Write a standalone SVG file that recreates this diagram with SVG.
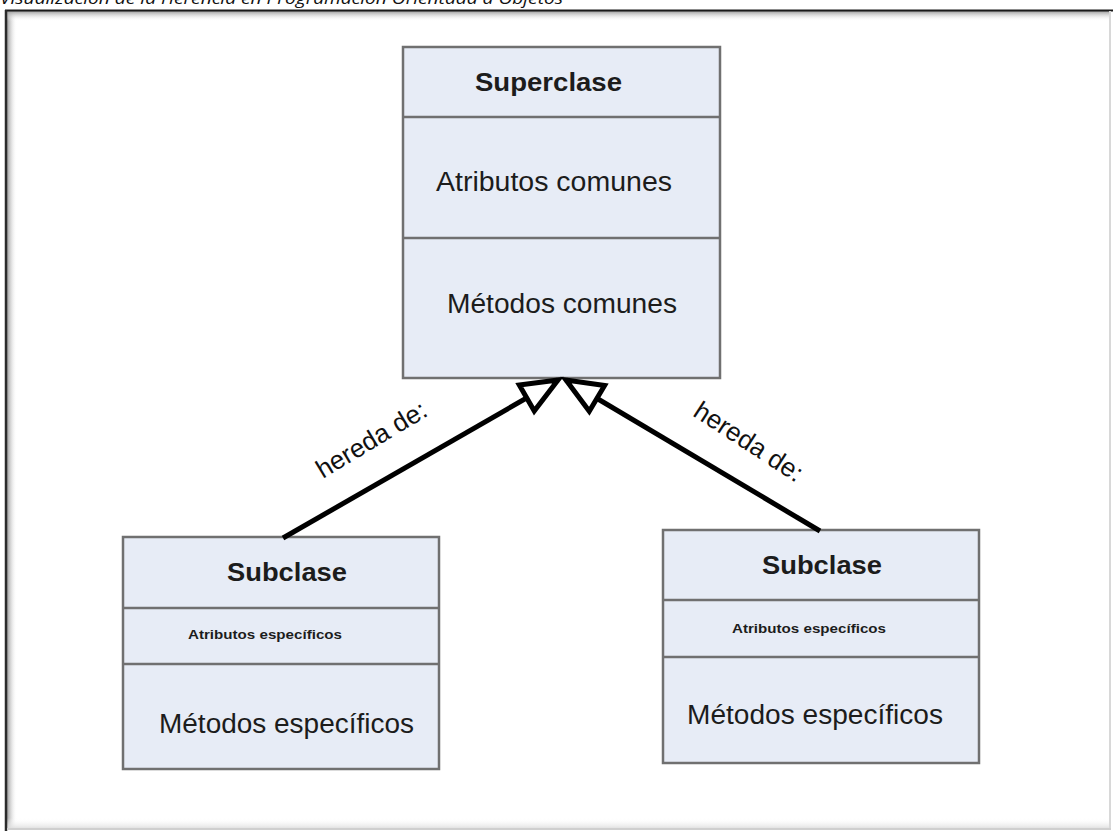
<svg xmlns="http://www.w3.org/2000/svg" width="1113" height="831" viewBox="0 0 1113 831">
<style>
.box{fill:#e7ecf6;stroke:#707070;stroke-width:2.5}
.div{stroke:#707070;stroke-width:2.5}
.t{font-family:"Liberation Sans",Arial,sans-serif;fill:#1c1c1c}
.b{font-weight:bold}
.conn{stroke:#000;stroke-width:5;fill:none}
.lbl{font-family:"Liberation Sans",Arial,sans-serif;font-size:26px;fill:#111}
</style>
<defs>
<linearGradient id="gTop" x1="0" y1="0" x2="0" y2="1">
<stop offset="0" stop-color="#9a9a9a"/><stop offset="1" stop-color="#ffffff" stop-opacity="0"/>
</linearGradient>
<linearGradient id="gLeft" x1="0" y1="0" x2="1" y2="0">
<stop offset="0" stop-color="#9a9a9a"/><stop offset="1" stop-color="#ffffff" stop-opacity="0"/>
</linearGradient>
<linearGradient id="gBot" x1="0" y1="0" x2="0" y2="1">
<stop offset="0" stop-color="#ffffff" stop-opacity="0"/><stop offset="1" stop-color="#dcdcdc"/>
</linearGradient>
<marker id="tri" markerUnits="userSpaceOnUse" markerWidth="60" markerHeight="60" viewBox="-50 -30 60 60" refX="0" refY="0" orient="auto" overflow="visible">
<path d="M0,0 L-36,-15 L-36,15 Z" fill="#fff" stroke="#000" stroke-width="5" stroke-linejoin="miter"/>
</marker>
</defs>
<rect x="0" y="0" width="1113" height="831" fill="#fff"/>
<text x="0" y="4" font-family="'Open Sans','Liberation Sans',sans-serif" font-style="italic" font-size="16" fill="#111" textLength="563" lengthAdjust="spacingAndGlyphs">Visualización de la Herencia en Programación Orientada a Objetos</text>
<g id="frame">
<rect x="7" y="11" width="10" height="818" fill="url(#gLeft)"/>
<rect x="7" y="11" width="1103" height="10" fill="url(#gTop)"/>
<rect x="7" y="818" width="1103" height="11" fill="url(#gBot)"/>
<line x1="5" y1="10.5" x2="1113" y2="10.5" stroke="#1a1a1a" stroke-width="2"/>
<line x1="6" y1="10" x2="6" y2="831" stroke="#2a2a2a" stroke-width="2.5"/>
<line x1="1110" y1="11" x2="1110" y2="829" stroke="#d8d8d8" stroke-width="2"/>
<line x1="7" y1="829" x2="1111" y2="829" stroke="#cfcfcf" stroke-width="2"/>
</g>
<g id="superclase">
<rect class="box" x="403" y="47" width="317" height="331"/>
<line class="div" x1="403" y1="117" x2="720" y2="117"/>
<line class="div" x1="403" y1="238" x2="720" y2="238"/>
<text class="t b" x="475" y="91" font-size="26" textLength="147" lengthAdjust="spacingAndGlyphs">Superclase</text>
<text class="t" x="436" y="191" font-size="27" textLength="236" lengthAdjust="spacingAndGlyphs">Atributos comunes</text>
<text class="t" x="447" y="313" font-size="27" textLength="230" lengthAdjust="spacingAndGlyphs">Métodos comunes</text>
</g>
<g id="subclase-izq">
<rect class="box" x="123" y="537" width="316" height="232"/>
<line class="div" x1="123" y1="608" x2="439" y2="608"/>
<line class="div" x1="123" y1="664" x2="439" y2="664"/>
<text class="t b" x="227" y="581" font-size="25" textLength="120" lengthAdjust="spacingAndGlyphs">Subclase</text>
<text class="t b" x="188" y="639" font-size="13" textLength="154" lengthAdjust="spacingAndGlyphs">Atributos específicos</text>
<text class="t" x="159" y="733" font-size="27" textLength="255" lengthAdjust="spacingAndGlyphs">Métodos específicos</text>
</g>
<g id="subclase-der">
<rect class="box" x="663" y="530" width="316" height="233"/>
<line class="div" x1="663" y1="600" x2="979" y2="600"/>
<line class="div" x1="663" y1="657" x2="979" y2="657"/>
<text class="t b" x="762" y="574" font-size="25" textLength="120" lengthAdjust="spacingAndGlyphs">Subclase</text>
<text class="t b" x="732" y="633" font-size="13" textLength="154" lengthAdjust="spacingAndGlyphs">Atributos específicos</text>
<text class="t" x="687" y="724" font-size="27" textLength="256" lengthAdjust="spacingAndGlyphs">Métodos específicos</text>
</g>
<g id="connectors">
<line class="conn" x1="283" y1="538" x2="558" y2="380" marker-end="url(#tri)"/>
<line class="conn" x1="820" y1="531" x2="566" y2="380" marker-end="url(#tri)"/>
<text class="lbl" x="376" y="447" text-anchor="middle" transform="rotate(-31 376 447)">hereda de:</text>
<text class="lbl" x="744" y="449" text-anchor="middle" transform="rotate(33 744 449)">hereda de:</text>
</g>
</svg>
